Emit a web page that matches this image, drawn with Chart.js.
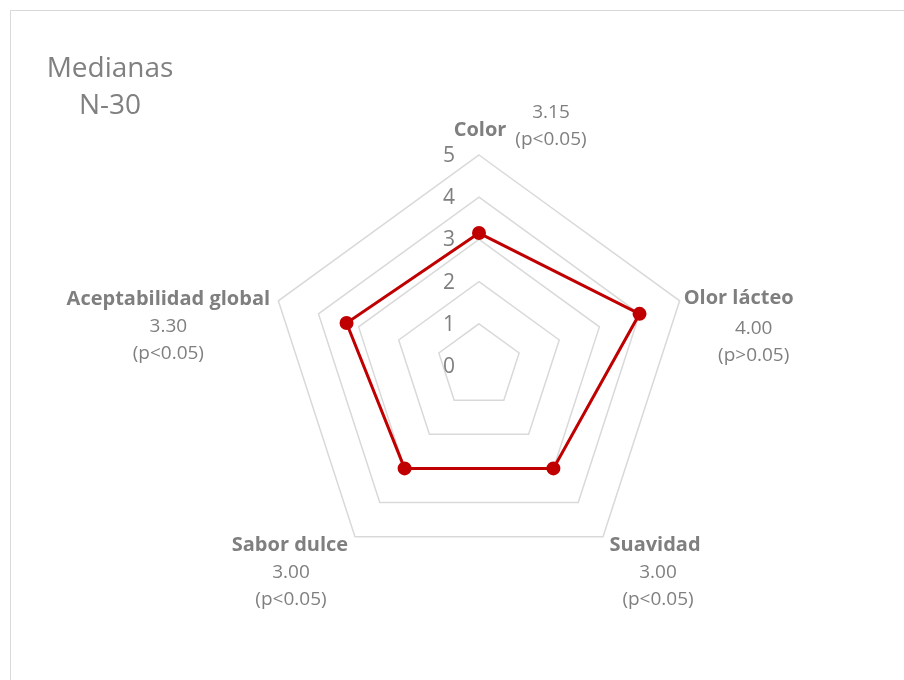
<!DOCTYPE html>
<html>
<head>
<meta charset="utf-8">
<script src="https://cdn.jsdelivr.net/npm/chart.js@4/dist/chart.umd.min.js"></script>
<style>
  html, body { margin: 0; padding: 0; background: #fff; }
  #wrap { position: relative; width: 904px; height: 680px; overflow: hidden; }
  #frame { position: absolute; left: 10px; top: 10px; width: 920px; height: 700px;
           border: 1.5px solid #d9d9d9; box-sizing: border-box; }
  #title { position: absolute; left: 20px; top: 48px; width: 180px; text-align: center;
           font: 28px "Open Sans", sans-serif; color: #808080; line-height: 37px; }
  #chart { position: absolute; left: 0; top: 0; }
</style>
</head>
<body>
<div id="wrap">
  <div id="frame"></div>
  <canvas id="chart" width="904" height="680"></canvas>
  <div id="title">Medianas<br>N-30</div>
</div>
<script>
const categories = ["Color", "Olor lácteo", "Suavidad", "Sabor dulce", "Aceptabilidad global"];
const medians = [3.15, 4.00, 3.00, 3.00, 3.30];
const pNotes = ["(p<0.05)", "(p>0.05)", "(p<0.05)", "(p<0.05)", "(p<0.05)"];
const tickValues = [0, 1, 2, 3, 4, 5];

// label offsets from the outer vertex: [name dx, name dy, value dx, value dy]
const labelOffsets = [
    [1, -25, 72, -42],
    [59, -3, 74, 28],
    [52, 9, 55, 36],
    [-65, 9, -64, 36],
    [-110, -2, -110, 26]
];

const textGray = "#7f7f7f";

const labelPlugin = {
    id: "excelLabels",
    afterDraw(chart)
    {
        const scale = chart.scales.r;
        const ctx = chart.ctx;
        ctx.save();
        ctx.textAlign = "center";
        ctx.textBaseline = "middle";
        ctx.fillStyle = textGray;

        // tick numbers left of the vertical axis
        ctx.font = "21px 'Open Sans', sans-serif";
        tickValues.forEach(v =>
        {
            const d = scale.getDistanceFromCenterForValue(v);
            ctx.fillText(String(v), scale.xCenter - 30, scale.yCenter - d + 1);
        });

        categories.forEach((name, i) =>
        {
            const p = scale.getPointPosition(i, scale.drawingArea);
            const o = labelOffsets[i];
            ctx.font = "bold 20px 'Open Sans', sans-serif";
            ctx.fillText(name, p.x + o[0], p.y + o[1]);
            ctx.font = "19px 'Open Sans', sans-serif";
            ctx.fillText(medians[i].toFixed(2), p.x + o[2], p.y + o[3]);
            ctx.fillText(pNotes[i], p.x + o[2], p.y + o[3] + 27);
        });
        ctx.restore();
    }
};

function generateRadarChart(elem)
{
    try
    {
        const config = {
            type: "radar",
            data: {
                labels: categories,
                datasets: [{
                    label: "Medianas",
                    data: medians,
                    borderColor: "#c00000",
                    backgroundColor: "#c00000",
                    pointBackgroundColor: "#c00000",
                    pointBorderColor: "#c00000",
                    borderWidth: 3,
                    pointRadius: 5.5,
                    fill: false
                }]
            },
            options: {
                responsive: false,
                animation: false,
                events: [],
                layout: {
                    padding: {left: 268, right: 214, top: 155, bottom: 103}
                },
                plugins: {
                    legend: {display: false},
                    tooltip: {enabled: false}
                },
                scales: {
                    r: {
                        min: 0,
                        max: 5,
                        ticks: {stepSize: 1, display: false},
                        grid: {color: "#d9d9d9", lineWidth: 1.5},
                        angleLines: {display: false},
                        pointLabels: {display: false}
                    }
                }
            },
            plugins: [labelPlugin]
        };

        new Chart(elem, config);
        return true;
    }
    catch (e)
    {
        console.error(e.message);
    }
    return false;
}

generateRadarChart(document.getElementById("chart"));
</script>
</body>
</html>
